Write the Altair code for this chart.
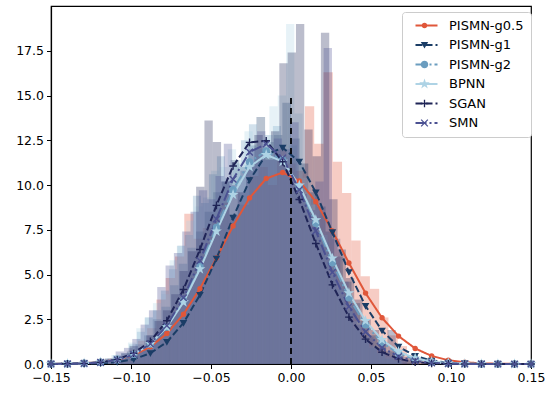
import altair as alt
import pandas as pd

series = ["PISMN-g0.5", "PISMN-g1", "PISMN-g2", "BPNN", "SGAN", "SMN"]
colors = ["#E0573A", "#1B3D66", "#6B9DBF", "#AED3E5", "#1F2456", "#4B5192"]
dashes = [[1, 0], [7, 3], [11, 3, 2, 3], [1, 0], [7, 3], [11, 3, 2, 3]]
star = "M0,-1L0.2245,-0.309L0.951,-0.309L0.363,0.118L0.588,0.809L0,0.382L-0.588,0.809L-0.363,0.118L-0.951,-0.309L-0.2245,-0.309Z"
shapes = ["circle", "triangle-down", "circle", star, "M-1,0L1,0M0,-1L0,1", "M-0.8,-0.8L0.8,0.8M-0.8,0.8L0.8,-0.8"]
sizes = [16, 70, 50, 85, 75, 55]

# fitted density curves (30 points each)
curve_x = [-0.15, -0.1397, -0.1293, -0.1190, -0.1086, -0.0983, -0.0879, -0.0776, -0.0672, -0.0569,
           -0.0466, -0.0362, -0.0259, -0.0155, -0.0052, 0.0052, 0.0155, 0.0259, 0.0362, 0.0466,
           0.0569, 0.0672, 0.0776, 0.0879, 0.0983, 0.1086, 0.1190, 0.1293, 0.1397, 0.15]
curve_g05 = [0.006, 0.017, 0.045, 0.109, 0.244, 0.50, 0.96, 1.70, 2.78, 4.21, 5.92, 7.71, 9.28, 10.36, 10.70,
             10.23, 9.07, 7.43, 5.64, 3.96, 2.58, 1.56, 0.87, 0.45, 0.21, 0.095, 0.039, 0.015, 0.005, 0.002]
curve_g1 = [0.001, 0.004, 0.013, 0.038, 0.106, 0.263, 0.60, 1.23, 2.29, 3.86, 5.89, 8.18, 10.27, 11.70, 12.08,
            11.30, 9.59, 7.36, 5.13, 3.24, 1.86, 0.97, 0.45, 0.19, 0.075, 0.026, 0.008, 0.002, 0.001, 0.0]
curve_g2 = [0.004, 0.012, 0.035, 0.096, 0.24, 0.54, 1.12, 2.07, 3.53, 5.44, 7.63, 9.74, 11.29, 11.90, 11.40,
            9.92, 7.87, 5.65, 3.70, 2.19, 1.19, 0.59, 0.26, 0.106, 0.039, 0.013, 0.004, 0.001, 0.0, 0.0]
curve_bpnn = [0.004, 0.013, 0.039, 0.10, 0.25, 0.55, 1.12, 2.06, 3.46, 5.30, 7.41, 9.46, 11.01, 11.69, 11.31,
              9.98, 8.05, 5.90, 3.96, 2.41, 1.35, 0.69, 0.32, 0.135, 0.052, 0.018, 0.006, 0.002, 0.001, 0.0]
curve_sgan = [0.003, 0.010, 0.033, 0.096, 0.25, 0.60, 1.27, 2.42, 4.16, 6.40, 8.86, 11.06, 12.38, 12.47, 11.30,
              9.19, 6.73, 4.42, 2.62, 1.39, 0.66, 0.29, 0.11, 0.039, 0.012, 0.003, 0.001, 0.0, 0.0, 0.0]
curve_smn = [0.003, 0.009, 0.030, 0.087, 0.226, 0.53, 1.12, 2.14, 3.70, 5.77, 8.10, 10.32, 11.84, 12.29, 11.51,
             9.73, 7.44, 5.12, 3.20, 1.79, 0.91, 0.42, 0.17, 0.065, 0.022, 0.007, 0.002, 0.001, 0.0, 0.0]
curves = [curve_g05, curve_g1, curve_g2, curve_bpnn, curve_sgan, curve_smn]

# histograms (density): first bin edge, bin width, bar heights
hist_start = [-0.1189, -0.1188, -0.1213, -0.1175, -0.1165, -0.1200]
hist_width = [0.0058, 0.0054, 0.0050, 0.0052, 0.0052, 0.0052]
hist_g05 = [0.1, 0.3, 0.3, 0.8, 1.3, 2.0, 3.6, 4.8, 6.0, 8.4, 7.0, 7.6, 8.2, 9.0, 9.6, 8.9, 10.5, 11.0, 10.0,
            12.0, 11.2, 10.8, 14.4, 12.3, 16.3, 11.3, 9.55, 6.9, 4.9, 4.2, 2.6, 1.6, 1.0, 0.5, 0.3, 0.1]
hist_g1 = [0.1, 0.2, 0.4, 0.7, 1.1, 1.6, 2.5, 3.2, 4.4, 5.6, 6.5, 7.4, 8.5, 9.6, 10.2, 11.4, 11.0, 12.2, 13.8,
           12.4, 12.8, 14.6, 12.6, 11.2, 9.6, 8.8, 7.4, 6.0, 4.6, 3.4, 2.4, 1.6, 1.1, 0.7, 0.4, 0.2]
hist_g2 = [0.1, 0.3, 0.5, 0.6, 1.1, 1.8, 2.6, 3.0, 4.1, 5.3, 6.6, 7.2, 9.4, 9.0, 10.6, 11.6, 10.4, 11.2, 12.5,
           13.4, 12.0, 12.8, 13.3, 11.6, 12.2, 10.0, 9.2, 7.6, 6.8, 5.0, 4.2, 3.0, 2.0, 1.4, 0.9, 0.6, 0.3, 0.2]
hist_bpnn = [0.2, 0.5, 0.4, 1.2, 2.0, 2.6, 3.4, 3.9, 5.8, 6.6, 8.0, 8.8, 9.3, 10.8, 11.0, 12.0, 11.4, 13.0, 12.2,
             12.6, 14.4, 15.0, 19.0, 14.0, 10.4, 8.9, 7.2, 6.0, 4.6, 3.4, 2.4, 1.5, 1.0, 0.6, 0.4, 0.2]
hist_sgan = [0.3, 0.2, 0.6, 1.0, 0.9, 1.6, 2.4, 3.0, 3.9, 5.2, 6.3, 9.9, 13.6, 12.4, 10.2, 8.3, 9.6, 11.0, 12.8,
             11.5, 13.0, 16.8, 17.4, 19.0, 13.1, 11.6, 18.5, 9.2, 6.4, 4.8, 3.6, 2.5, 1.9, 1.2, 1.9, 0.6, 0.4, 0.2]
hist_smn = [0.2, 0.3, 0.7, 0.9, 1.4, 2.2, 3.0, 4.3, 5.5, 6.2, 7.4, 8.5, 9.7, 9.2, 10.5, 12.3, 10.0, 10.8, 12.0,
            13.0, 11.4, 12.6, 12.0, 13.5, 9.5, 8.6, 10.2, 17.65, 7.0, 4.6, 3.3, 2.2, 1.5, 0.9, 0.6, 0.4, 0.2]
hists = [hist_g05, hist_g1, hist_g2, hist_bpnn, hist_sgan, hist_smn]

vline_x = [0.0]
vline_top = [15.0]
x_ticks = [-0.15, -0.10, -0.05, 0.0, 0.05, 0.10, 0.15]
y_ticks = [0.0, 2.5, 5.0, 7.5, 10.0, 12.5, 15.0, 17.5]

rows = []
for s, start, w, hs in zip(series, hist_start, hist_width, hists):
    for i, h in enumerate(hs):
        rows.append({"series": s, "x0": start + i * w, "x1": start + (i + 1) * w, "h": h})
df_hist = pd.DataFrame(rows)

crow = []
for s, ys in zip(series, curves):
    for x, y in zip(curve_x, ys):
        crow.append({"series": s, "x": x, "y": y})
df_curve = pd.DataFrame(crow)

xs = alt.Scale(domain=[-0.15, 0.15], nice=False, zero=False)
ys_ = alt.Scale(domain=[0, 20], nice=False)
cscale = alt.Scale(domain=series, range=colors)

xaxis = alt.Axis(values=x_ticks, format=".2f", title=None, grid=False, labelFlush=False)
yaxis = alt.Axis(values=y_ticks, format=".1f", title=None, grid=False, labelFlush=False)

common_leg = dict(title=None, orient="none", labelFontSize=13, labelFont="DejaVu Sans",
                  rowPadding=5.5, padding=7)
line_leg = alt.Legend(legendX=351, legendY=6, symbolType="M0,0L8.8,0", symbolSize=25,
                      symbolStrokeWidth=2, labelOffset=27, labelColor="black",
                      fillColor="white", strokeColor="#cccccc", cornerRadius=3, zindex=1,
                      **common_leg)
pt_leg = alt.Legend(legendX=360, legendY=6, labelExpr="''", labelOffset=0,
                    symbolStrokeWidth=1.3, zindex=2, **common_leg)

hist = alt.Chart(df_hist).mark_rect(opacity=0.3, strokeWidth=0).encode(
    x=alt.X("x0:Q", scale=xs, axis=xaxis),
    x2="x1:Q",
    y=alt.Y("h:Q", scale=ys_, axis=yaxis),
    y2=alt.datum(0),
    color=alt.Color("series:N", scale=cscale, legend=None),
)

lines = alt.Chart(df_curve).mark_line(strokeWidth=2).encode(
    x=alt.X("x:Q", scale=xs),
    y=alt.Y("y:Q", scale=ys_),
    color=alt.Color("series:N", scale=cscale, legend=line_leg, sort=series),
    strokeDash=alt.StrokeDash("series:N", scale=alt.Scale(domain=series, range=dashes),
                              legend=line_leg, sort=series),
)

points = alt.Chart(df_curve).mark_point(filled=True, opacity=1, strokeWidth=1.4).encode(
    x=alt.X("x:Q", scale=xs),
    y=alt.Y("y:Q", scale=ys_),
    fill=alt.Fill("series:N", scale=cscale, legend=pt_leg, sort=series),
    stroke=alt.Stroke("series:N", scale=cscale, legend=pt_leg, sort=series),
    shape=alt.Shape("series:N", scale=alt.Scale(domain=series, range=shapes), legend=pt_leg, sort=series),
    size=alt.Size("series:N", scale=alt.Scale(domain=series, range=sizes), legend=pt_leg, sort=series),
)

rule = alt.Chart(pd.DataFrame({"x": vline_x, "y": [0.0], "y2": vline_top})).mark_rule(
    color="black", strokeDash=[6, 4], strokeWidth=1.8
).encode(x=alt.X("x:Q", scale=xs), y=alt.Y("y:Q", scale=ys_), y2="y2:Q")

chart = alt.layer(hist, lines, points, rule).resolve_scale(
    color="independent", fill="independent", stroke="independent",
    shape="independent", strokeDash="independent", size="independent"
).properties(
    width=480, height=358,
    autosize=alt.AutoSizeParams(type="none"),
    padding={"left": 51, "top": 6, "right": 15, "bottom": 30},
).configure_view(stroke="black", strokeWidth=1.2).configure_axis(
    domainColor="black", tickColor="black", labelColor="black", labelFont="DejaVu Sans",
    labelFontSize=12.5, tickSize=4.5, domainWidth=1.2, zindex=1, labelPadding=3
)

chart.save("out.html", embed_options={"renderer": "svg", "actions": False})
